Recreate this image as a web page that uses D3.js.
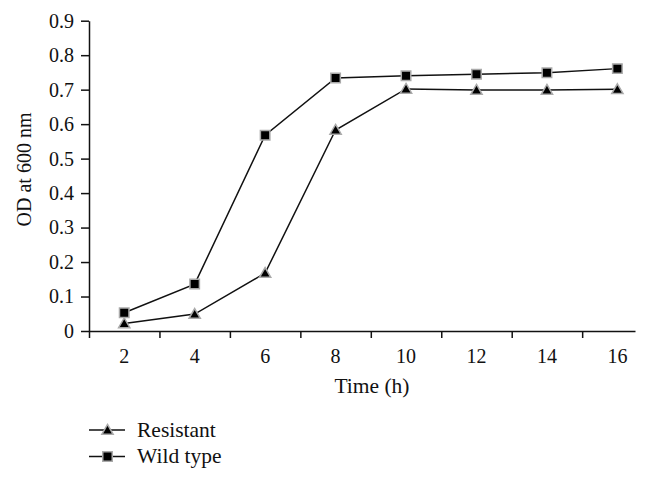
<!DOCTYPE html>
<html>
<head>
<meta charset="utf-8">
<script src="https://cdn.jsdelivr.net/npm/d3@7"></script>
<style>
  body { margin: 0; background: #fff; }
  text { font-family: "Liberation Serif", "DejaVu Serif", serif; fill: #111; }
</style>
</head>
<body>
<div id="chart"></div>
<script>
var svgWidth = 646;
var svgHeight = 482;

// Data
var hours = [2, 4, 6, 8, 10, 12, 14, 16];
var resistant = [0.022, 0.049, 0.168, 0.583, 0.702, 0.699, 0.699, 0.701];
var wildType = [0.053, 0.136, 0.568, 0.734, 0.740, 0.745, 0.749, 0.761];
var yTicks = [0, 0.1, 0.2, 0.3, 0.4, 0.5, 0.6, 0.7, 0.8, 0.9];
var xTickMarks = [1, 3, 5, 7, 9, 11, 13, 15];
var seriesNames = ["Resistant", "Wild type"];

var margin = { top: 20.7, right: 11, bottom: 151, left: 89 };
var width = svgWidth - margin.left - margin.right;
var height = svgHeight - margin.top - margin.bottom;

var svg = d3.select("#chart")
  .append("svg")
  .attr("width", svgWidth)
  .attr("height", svgHeight);

var chartGroup = svg.append("g")
  .attr("transform", `translate(${margin.left}, ${margin.top})`);

var xScale = d3.scaleLinear()
  .domain([1, 16.5])
  .range([0, width]);

var yScale = d3.scaleLinear()
  .domain([0, 0.9])
  .range([height, 0]);

// y axis
var leftAxis = d3.axisLeft(yScale)
  .tickValues(yTicks)
  .tickFormat(d => d === 0 ? "0" : d3.format(".1f")(d))
  .tickSize(8)
  .tickPadding(7)
  .tickSizeOuter(0);

var yAxisG = chartGroup.append("g").call(leftAxis);
yAxisG.select(".domain").attr("stroke", "#111").attr("stroke-width", 1.5);
yAxisG.selectAll(".tick line").attr("stroke", "#111").attr("stroke-width", 1.5);
yAxisG.selectAll(".tick text")
  .style("font-family", "Liberation Serif")
  .style("font-size", "20px")
  .attr("fill", "#111");

// x axis: tick marks between hours, labels at hours
var bottomAxis = d3.axisBottom(xScale)
  .tickValues(xTickMarks)
  .tickFormat("")
  .tickSize(7)
  .tickSizeOuter(0);

var xAxisG = chartGroup.append("g")
  .attr("transform", `translate(0, ${height})`)
  .call(bottomAxis);
xAxisG.select(".domain").attr("stroke", "#111").attr("stroke-width", 1.5);
xAxisG.selectAll(".tick line").attr("stroke", "#111").attr("stroke-width", 1.5);

xAxisG.selectAll(".hour-label")
  .data(hours)
  .enter()
  .append("text")
  .attr("class", "hour-label")
  .attr("x", d => xScale(d))
  .attr("y", 32)
  .attr("text-anchor", "middle")
  .style("font-size", "20px")
  .text(d => d);

// axis titles
chartGroup.append("text")
  .attr("transform", "rotate(-90)")
  .attr("x", -148.8)
  .attr("y", 0 - margin.left + 31)
  .attr("text-anchor", "middle")
  .style("font-size", "20px")
  .text("OD at 600 nm");

chartGroup.append("text")
  .attr("x", width / 2 + 10)
  .attr("y", height + 62)
  .attr("text-anchor", "middle")
  .style("font-size", "21.5px")
  .text("Time (h)");

// lines
var line = d3.line()
  .x((d, i) => xScale(hours[i]))
  .y(d => yScale(d));

[resistant, wildType].forEach(function(values) {
  chartGroup.append("path")
    .datum(values)
    .attr("d", line)
    .attr("fill", "none")
    .attr("stroke", "#111")
    .attr("stroke-width", 1.5);
});

var triangle = d3.symbol().type(d3.symbolTriangle).size(55);
var square = d3.symbol().type(d3.symbolSquare).size(90);

function drawMarkers(values, shape) {
  chartGroup.selectAll(null)
    .data(values)
    .enter()
    .append("path")
    .attr("d", shape)
    .attr("transform", (d, i) => `translate(${xScale(hours[i])}, ${yScale(d) + (shape === triangle ? 1 : 0)})`)
    .attr("fill", "#000")
    .attr("stroke", "#aaa")
    .attr("stroke-width", 1.5);
}

drawMarkers(resistant, triangle);
drawMarkers(wildType, square);

// legend
var legend = svg.append("g")
  .attr("transform", "translate(89, 430)");

var legendRows = legend.selectAll("g")
  .data(seriesNames)
  .enter()
  .append("g")
  .attr("transform", (d, i) => `translate(0, ${i * 26.5})`);

legendRows.append("line")
  .attr("x1", 0)
  .attr("x2", 36)
  .attr("y1", 0)
  .attr("y2", 0)
  .attr("stroke", "#111")
  .attr("stroke-width", 1.5);

legendRows.append("path")
  .attr("d", (d, i) => i === 0 ? triangle() : square())
  .attr("transform", (d, i) => `translate(18.5, ${i === 0 ? 1 : 0})`)
  .attr("fill", "#000")
  .attr("stroke", "#aaa")
  .attr("stroke-width", 1.5);

legendRows.append("text")
  .attr("x", 48)
  .attr("y", 6.5)
  .style("font-size", "21.5px")
  .text(d => d);
</script>
</body>
</html>
